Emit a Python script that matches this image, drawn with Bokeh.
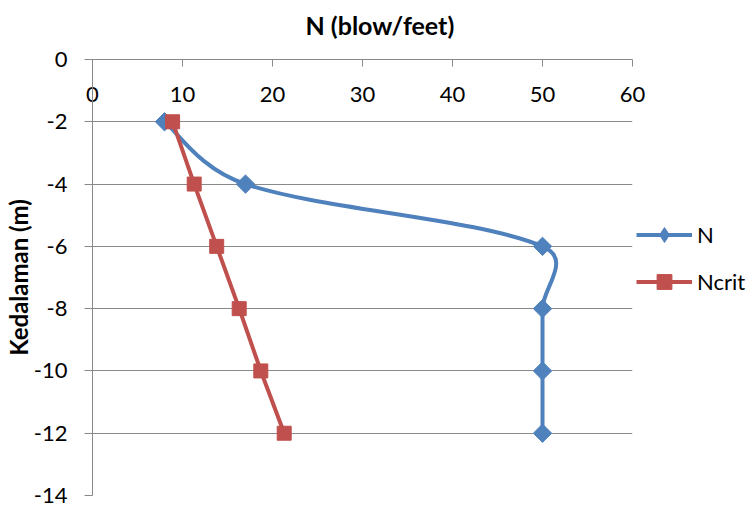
import numpy as np
from bokeh.plotting import figure
from bokeh.models import Range1d, FixedTicker, Legend, LegendItem, Title
from bokeh.embed import file_html
from bokeh.resources import INLINE

# ---- data ----
depth = [-2, -4, -6, -8, -10, -12]
n_values = [8, 17, 50, 50, 50, 50]
ncrit_values = [8.9, 11.3, 13.8, 16.3, 18.7, 21.3]
x_ticks = [0, 10, 20, 30, 40, 50, 60]
y_ticks = [0, -2, -4, -6, -8, -10, -12, -14]

BLUE = "#4F81BD"
RED = "#C0504D"
GRID = "#898989"
FONT = "Lato"

FW, FH = 540, 436

p = figure(frame_width=FW, frame_height=FH,
           x_range=Range1d(0, 60), y_range=Range1d(-14, 0),
           x_axis_location="above",
           output_backend="svg", toolbar_location=None,
           min_border_left=84, min_border_right=112,
           min_border_top=0, min_border_bottom=12)
p.outline_line_color = None
p.background_fill_color = "white"
p.border_fill_color = "white"

# ---- smoothed line for N (Excel-like smoothing, bezier segments) ----
xs = np.array(n_values, float)
ys = np.array(depth, float)
kx, ky = FW / 60.0, FH / 14.0
px, py = xs * kx, ys * ky
d = np.hypot(np.diff(px), np.diff(py))
n = len(xs)
out_x, out_y, in_x, in_y = np.zeros(n), np.zeros(n), np.zeros(n), np.zeros(n)
for i in range(n):
    if i == 0:
        tx, ty = xs[1] - xs[0], ys[1] - ys[0]
        out_x[i], out_y[i] = xs[i] + tx / 6, ys[i] + ty / 6
    elif i == n - 1:
        tx, ty = xs[i] - xs[i - 1], ys[i] - ys[i - 1]
        in_x[i], in_y[i] = xs[i] - tx / 6, ys[i] - ty / 6
    else:
        tx, ty = xs[i + 1] - xs[i - 1], ys[i + 1] - ys[i - 1]
        a, b = np.sqrt(d[i - 1]), np.sqrt(d[i])
        w_in, w_out = a / (a + b), b / (a + b)
        out_x[i], out_y[i] = xs[i] + tx * w_out / 3, ys[i] + ty * w_out / 3
        in_x[i], in_y[i] = xs[i] - tx * w_in / 3, ys[i] - ty * w_in / 3

n_line = p.bezier(x0=xs[:-1], y0=ys[:-1], x1=xs[1:], y1=ys[1:],
                  cx0=out_x[:-1], cy0=out_y[:-1], cx1=in_x[1:], cy1=in_y[1:],
                  line_color=BLUE, line_width=4)
# diamond-shaped key for the legend (hidden under the rotated squares)
n_key = p.scatter(n_values, depth, marker="diamond", size=13,
                  fill_color=BLUE, line_color=BLUE)
n_mark = p.scatter(n_values, depth, marker="square", angle=np.pi / 4, size=13,
                   fill_color=BLUE, line_color=BLUE)

c_line = p.line(ncrit_values, depth, line_color=RED, line_width=4)
c_mark = p.scatter(ncrit_values, depth, marker="square", size=14,
                   fill_color=RED, line_color=RED)

# ---- axis title on top (with a blank spacer title below it) ----
p.add_layout(Title(text=" ", text_font_size="1px", standoff=9), "above")
p.add_layout(Title(text="N (blow/feet)", align="left", offset=213,
                   text_font=FONT, text_font_style="bold",
                   text_font_size="25px", text_color="black",
                   standoff=15), "above")

# ---- axes ----
xa = p.xaxis[0]
xa.ticker = FixedTicker(ticks=x_ticks)
xa.major_label_text_font = FONT
xa.major_label_text_font_size = "22px"
xa.major_label_text_color = "black"
xa.major_label_standoff = -42
xa.major_tick_in = 7
xa.major_tick_out = 0
xa.minor_tick_in = 0
xa.minor_tick_out = 0
xa.axis_line_color = GRID
xa.major_tick_line_color = GRID

ya = p.yaxis[0]
ya.ticker = FixedTicker(ticks=y_ticks)
ya.major_label_overrides = {t: str(t) for t in y_ticks}
ya.axis_label = "Kedalaman (m)"
ya.axis_label_text_font = FONT
ya.axis_label_text_font_style = "bold"
ya.axis_label_text_font_size = "24px"
ya.axis_label_text_color = "black"
ya.axis_label_standoff = -2
ya.major_label_text_font = FONT
ya.major_label_text_font_size = "22px"
ya.major_label_text_color = "black"
ya.major_label_standoff = 17
ya.major_tick_in = 0
ya.major_tick_out = 8
ya.minor_tick_in = 0
ya.minor_tick_out = 0
ya.axis_line_color = GRID
ya.major_tick_line_color = GRID

p.xgrid.visible = False
p.ygrid.ticker = FixedTicker(ticks=y_ticks)
p.ygrid.grid_line_color = GRID
p.ygrid.grid_line_width = 1

# ---- legend ----
legend = Legend(items=[LegendItem(label="N", renderers=[n_line, n_key]),
                       LegendItem(label="Ncrit", renderers=[c_line, c_mark])],
                location=(4, 195), orientation="vertical",
                border_line_color=None, background_fill_alpha=0,
                padding=0, margin=0, spacing=10,
                glyph_width=56, glyph_height=37, label_height=37,
                label_standoff=5,
                label_text_font=FONT, label_text_font_size="22px",
                label_text_color="black")
p.add_layout(legend, "right")

open("out.html", "w").write(file_html(p, INLINE))
